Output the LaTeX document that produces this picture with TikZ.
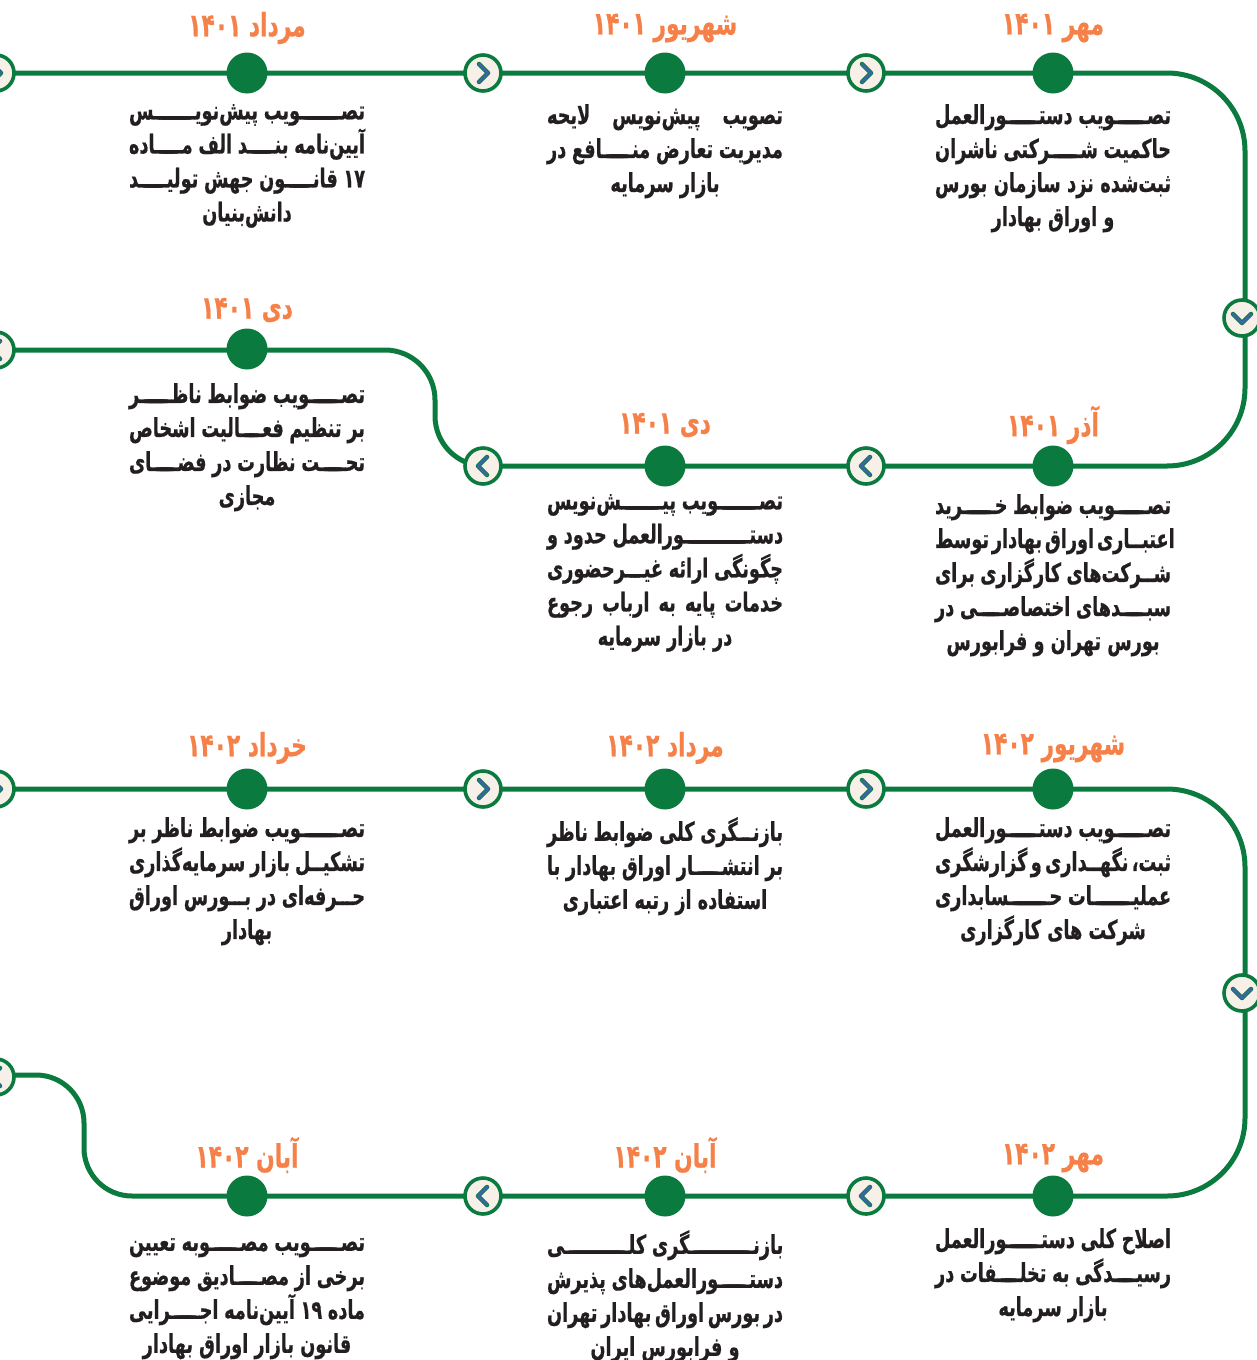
\documentclass[tikz,border=0pt]{standalone}
\usepackage{fontspec}
\TeXXeTstate=1
\newfontfamily\fa[Script=Arabic, FakeStretch=0.68, FakeBold=0.6]{DejaVu Sans}
\definecolor{tlgreen}{RGB}{10,122,62}
\definecolor{orng}{RGB}{245,128,72}
\definecolor{txt}{RGB}{35,31,32}
\definecolor{cream}{RGB}{246,240,232}
\definecolor{chevblue}{RGB}{62,100,168}
\newcommand\JL[1]{\hbox to 236pt{\spaceskip=0.22em plus 0.4em minus 0.11em\beginR#1\endR}}
\newcommand\CL[1]{\hbox{\beginR#1\endR}}
\newcommand\zw{^^^^200c}
\newcommand\K{\xleaders\hbox to 1.5pt{\hss ـ\hss}\hfill}
\tikzset{
  tl/.style={draw=tlgreen, line width=5pt},
  dotn/.style={circle, fill=tlgreen, minimum size=41pt, inner sep=0pt},
  arrn/.style={circle, fill=cream, draw=tlgreen, line width=3.6pt, minimum size=36pt, inner sep=0pt},
  hdr/.style={text=orng, font=\fa\bfseries\fontsize{32}{34}\selectfont, inner sep=0pt, anchor=center},
  body/.style={text=txt, font=\fa\bfseries\fontsize{26}{34}\selectfont, align=center, anchor=north, inner sep=0pt},
  chevo/.style={draw=tlgreen, line width=4.5pt, line cap=round, line join=round},
  chevi/.style={draw=chevblue, line width=2.8pt, line cap=round, line join=round},
}
\newcommand\chevR[1]{\draw[chevo,shift={(#1.center)}] (-4,-9)--(5,0)--(-4,9); \draw[chevi,shift={(#1.center)}] (-4,-9)--(5,0)--(-4,9);}
\newcommand\chevL[1]{\draw[chevo,shift={(#1.center)}] (4,-9)--(-5,0)--(4,9); \draw[chevi,shift={(#1.center)}] (4,-9)--(-5,0)--(4,9);}
\newcommand\chevD[1]{\draw[chevo,shift={(#1.center)}] (-9,-4)--(0,5)--(9,-4); \draw[chevi,shift={(#1.center)}] (-9,-4)--(0,5)--(9,-4);}
\begin{document}
\begin{tikzpicture}[x=1pt,y=-1pt]
\useasboundingbox (0,0) rectangle (1257,1360);
\fill[white] (0,0) rectangle (1257,1360);

% corner coordinates
\coordinate (s1) at (-30,73);
\coordinate (k1) at (1245,73);
\coordinate (k2) at (1245,466);
\coordinate (k3) at (435,466);
\coordinate (k4) at (435,350);
\coordinate (s2) at (-30,350);
\coordinate (s3) at (-30,789);
\coordinate (k5) at (1245,789);
\coordinate (k6) at (1245,1196);
\coordinate (k7) at (84,1196);
\coordinate (k8) at (84,1075);
\coordinate (s4) at (-30,1075);

% timeline
\draw[tl, rounded corners=78pt] (s1) -- (k1) -- (k2) -- (483,466);
\draw[tl, rounded corners=50pt] (483,466) -- (k3) -- (k4) -- (s2);
\draw[tl, rounded corners=78pt] (s3) -- (k5) -- (k6) -- (247,1196);
\draw[tl, rounded corners=48pt] (247,1196) -- (k7) -- (k8) -- (s4);

% dots
\node[dotn] (d1) at (1053,73) {};
\node[dotn] (d2) at (665,73) {};
\node[dotn] (d3) at (247,73) {};
\node[dotn] (d4) at (1053,466) {};
\node[dotn] (d5) at (665,466) {};
\node[dotn] (d6) at (247,349) {};
\node[dotn] (d7) at (1053,789) {};
\node[dotn] (d8) at (665,789) {};
\node[dotn] (d9) at (247,789) {};
\node[dotn] (d10) at (1053,1196) {};
\node[dotn] (d11) at (665,1196) {};
\node[dotn] (d12) at (247,1196) {};

% arrow circles
\node[arrn] (a1) at (866,73) {};
\node[arrn] (a2) at (483,73) {};
\node[arrn] (a0) at (-4,73) {};
\node[arrn] (ad1) at (1242,318) {};
\node[arrn] (a3) at (866,466) {};
\node[arrn] (a4) at (483,466) {};
\node[arrn] (a5) at (-4,350) {};
\node[arrn] (a6) at (866,789) {};
\node[arrn] (a7) at (483,789) {};
\node[arrn] (a8) at (-4,789) {};
\node[arrn] (ad2) at (1242,993) {};
\node[arrn] (a9) at (866,1196) {};
\node[arrn] (a10) at (483,1196) {};
\node[arrn] (a11) at (-4,1077) {};
\chevR{a1}\chevR{a2}\chevR{a0}
\chevD{ad1}
\chevL{a3}\chevL{a4}\chevL{a5}
\chevR{a6}\chevR{a7}\chevR{a8}
\chevD{ad2}
\chevL{a9}\chevL{a10}\chevL{a11}

% headers
\node[hdr] (h1) at (1053,28) {\beginR مهر ۱۴۰۱\endR};
\node[hdr] (h2) at (665,28) {\beginR شهریور ۱۴۰۱\endR};
\node[hdr] (h3) at (247,28) {\beginR مرداد ۱۴۰۱\endR};
\node[hdr] (h4) at (1053,425) {\beginR آذر ۱۴۰۱\endR};
\node[hdr] (h5) at (665,425) {\beginR دی ۱۴۰۱\endR};
\node[hdr] (h6) at (247,310) {\beginR دی ۱۴۰۱\endR};
\node[hdr] (h7) at (1053,748) {\beginR شهریور ۱۴۰۲\endR};
\node[hdr] (h8) at (665,748) {\beginR مرداد ۱۴۰۲\endR};
\node[hdr] (h9) at (247,748) {\beginR خرداد ۱۴۰۲\endR};
\node[hdr] (h10) at (1053,1158) {\beginR مهر ۱۴۰۲\endR};
\node[hdr] (h11) at (665,1155) {\beginR آبان ۱۴۰۲\endR};
\node[hdr] (h12) at (247,1155) {\beginR آبان ۱۴۰۲\endR};

% bodies
\node[body] (t1) at (1053,104) {\JL{تصـ\K ـویب دستـ\K ـورالعمل}\\\JL{حاکمیت شـ\K ـرکتی ناشران}\\\JL{ثبت\zw شده نزد سازمان بورس}\\\CL{و اوراق بهادار}};
\node[body] (t2) at (665,104) {\JL{تصویب پیش\zw نویس لایحه}\\\JL{مدیریت تعارض منـ\K ـافع در}\\\CL{بازار سرمایه}};
\node[body] (t3) at (247,104) {\JL{تصـ\K ـویب پیش\zw نویـ\K ـس}\\\JL{آیین\zw نامه بنـ\K ـد الف مـ\K ـاده}\\\JL{۱۷ قانـ\K ـون جهش تولیـ\K ـد}\\\CL{دانش\zw بنیان}};
\node[body] (t4) at (1053,494) {\JL{تصـ\K ـویب ضوابط خـ\K ـرید}\\\JL{اعتبـ\K ـاری اوراق بهادار توسط}\\\JL{شـ\K ـرکت\zw های کارگزاری برای}\\\JL{سبـ\K ـدهای اختصاصـ\K ـی در}\\\CL{بورس تهران و فرابورس}};
\node[body] (t5) at (665,494) {\JL{تصـ\K ـویب پیـ\K ـش\zw نویس}\\\JL{دستـ\K ـورالعمل حدود و}\\\JL{چگونگی ارائه غیـ\K ـرحضوری}\\\JL{خدمات پایه به ارباب رجوع}\\\CL{در بازار سرمایه}};
\node[body] (t6) at (247,383) {\JL{تصـ\K ـویب ضوابط ناظـ\K ـر}\\\JL{بر تنظیم فعـ\K ـالیت اشخاص}\\\JL{تحـ\K ـت نظارت در فضـ\K ـای}\\\CL{مجازی}};
\node[body] (t7) at (1053,817) {\JL{تصـ\K ـویب دستـ\K ـورالعمل}\\\JL{ثبت، نگهـ\K ـداری و گزارشگری}\\\JL{عملیـ\K ـات حـ\K ـسابداری}\\\CL{شرکت های کارگزاری}};
\node[body] (t8) at (665,817) {\JL{بازنـ\K ـگری کلی ضوابط ناظر}\\\JL{بر انتشـ\K ـار اوراق بهادار با}\\\CL{استفاده از رتبه اعتباری}};
\node[body] (t9) at (247,817) {\JL{تصـ\K ـویب ضوابط ناظر بر}\\\JL{تشکیـ\K ـل بازار سرمایه\zw گذاری}\\\JL{حـ\K ـرفه\zw ای در بـ\K ـورس اوراق}\\\CL{بهادار}};
\node[body] (t10) at (1053,1228) {\JL{اصلاح کلی دستـ\K ـورالعمل}\\\JL{رسیـ\K ـدگی به تخلـ\K ـفات در}\\\CL{بازار سرمایه}};
\node[body] (t11) at (665,1230) {\JL{بازنـ\K ـگری کلـ\K ـی}\\\JL{دستـ\K ـورالعمل\zw های پذیرش}\\\JL{در بورس اوراق بهادار تهران}\\\CL{و فرابورس ایران}};
\node[body] (t12) at (247,1238) {\JL{تصـ\K ـویب مصـ\K ـوبه تعیین}\\\JL{برخی از مصـ\K ـادیق موضوع}\\\JL{ماده ۱۹ آیین\zw نامه اجـ\K ـرایی}\\\CL{قانون بازار اوراق بهادار}};
\end{tikzpicture}
\end{document}
